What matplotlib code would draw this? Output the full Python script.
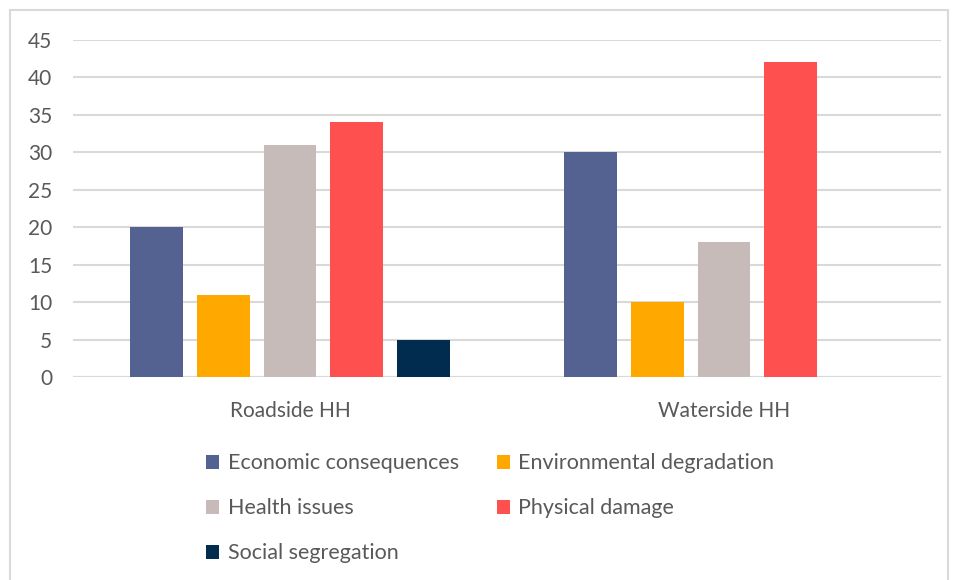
import matplotlib.pyplot as plt
from matplotlib.patches import Rectangle
import numpy as np

groups = ['Roadside HH', 'Waterside HH']
series = ['Economic consequences', 'Environmental degradation', 'Health issues',
          'Physical damage', 'Social segregation']
values = [
    [20, 30],  # Economic consequences
    [11, 10],  # Environmental degradation
    [31, 18],  # Health issues
    [34, 42],  # Physical damage
    [5, 0],    # Social segregation
]
colors = ['#546291', '#FFA800', '#C7BBBA', '#FF5050', '#022B50']
yticks = list(range(0, 50, 5))

plt.rcParams['font.family'] = ['Lato', 'DejaVu Sans']
txt = '#595959'
grid = '#D9D9D9'
fs = 15

fig = plt.figure(figsize=(9.57, 5.8), dpi=100)
ax = fig.add_axes([73 / 957, 1 - 377 / 580, 868 / 957, 337 / 580])

x = np.arange(len(groups))
step = 0.1535
width = 0.122
bars = []
for i, (name, vals) in enumerate(zip(series, values)):
    b = ax.bar(x + (i - 2) * step, vals, width, color=colors[i], label=name, zorder=3)
    bars.append(b)

ax.set_xlim(-0.5, 1.5)
ax.set_ylim(0, 45)
ax.set_yticks(yticks)
ax.set_xticks(x)
ax.set_xticklabels(groups)
ax.yaxis.grid(True, color=grid, linewidth=1.5, zorder=0)
ax.tick_params(axis='both', length=0, labelsize=fs, colors=txt)
ax.tick_params(axis='y', pad=15)
ax.tick_params(axis='x', pad=17)
for s in ax.spines.values():
    s.set_visible(False)
ax.axhline(0, color=grid, linewidth=1.5, zorder=2)

# legend laid out row by row: Econ | Env, Health | Phys, Social
order = [0, 2, 4, 1, 3]
fig.legend([bars[i] for i in order], [series[i] for i in order],
           ncol=2, loc='upper left', bbox_to_anchor=(187 / 957, 1 - 434 / 580),
           frameon=False, fontsize=15.5, labelcolor=txt,
           handlelength=0.6, handleheight=0.6, handletextpad=0.4,
           labelspacing=1.16, columnspacing=1.75)

# outer chart border
fig.patches.append(Rectangle((10 / 957, -0.01), 938 / 957, 1 - 10 / 580 + 0.01,
                             transform=fig.transFigure, fill=False,
                             edgecolor=grid, linewidth=1.5))

fig.savefig('out.png', dpi=100)
